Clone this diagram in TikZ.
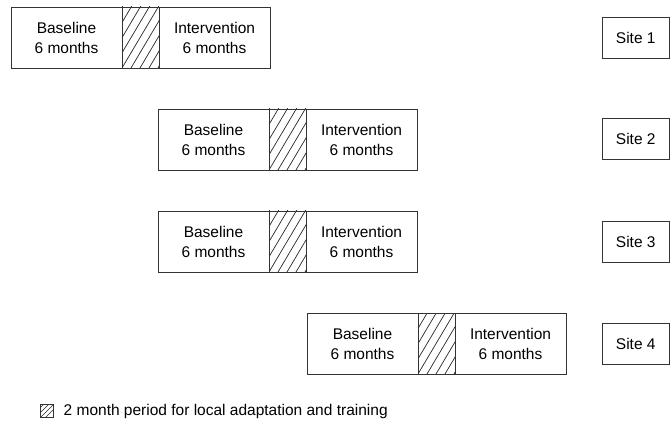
\documentclass[tikz,border=0pt]{standalone}
\usepackage{fontspec}
\setmainfont{Liberation Sans}
\usetikzlibrary{positioning}

\tikzset{
  phase/.style={draw=black!80, line width=0.8pt, minimum width=111pt, minimum height=61pt,
    inner sep=0pt, outer sep=0pt, align=center, font=\fontsize{15.5}{20}\selectfont},
  gap/.style={phase, minimum width=37pt,
    path picture={
      \foreach \k in {-6,...,5}
        \draw[line width=0.7pt, black!85]
          ([xshift=\k*9pt]path picture bounding box.south west) -- ++(38pt,64pt);
    }},
  keybox/.style={draw=black!80, line width=0.7pt, minimum size=13pt, inner sep=0pt, outer sep=0pt,
    path picture={
      \foreach \k in {-2,...,1}
        \draw[line width=0.6pt, black!85]
          ([xshift=\k*5pt]path picture bounding box.south west) -- ++(14pt,14pt);
    }},
  site/.style={draw=black!80, line width=0.8pt, minimum width=67.5pt, minimum height=41pt,
    inner sep=0pt, outer sep=0pt, font=\fontsize{15.5}{20}\selectfont}
}

\begin{document}
\begin{tikzpicture}[x=1pt, y=-1pt]
  \useasboundingbox (0,0) rectangle (670,433);
  % one row per site: baseline, 2 month gap, intervention
  \foreach \x/\y [count=\i] in {11/37.5, 158/139.5, 158/241.5, 307/343.5} {
    \node[phase, anchor=west] (b\i) at (\x, \y) {Baseline\\6 months};
    \node[gap, right=0pt of b\i] (h\i) {};
    \node[phase, right=0pt of h\i] (v\i) {Intervention\\6 months};
  }
  \foreach \y [count=\i] in {37.5, 139, 242, 343.5} {
    \node[site, anchor=west] (s\i) at (602, \y) {Site \i};
  }
  % legend
  \node[keybox] (key) at (47, 411) {};
  \node[inner sep=0pt, font=\fontsize{15.5}{20}\selectfont, right=10pt of key] (keytext)
    {2 month period for local adaptation and training};
\end{tikzpicture}
\end{document}
